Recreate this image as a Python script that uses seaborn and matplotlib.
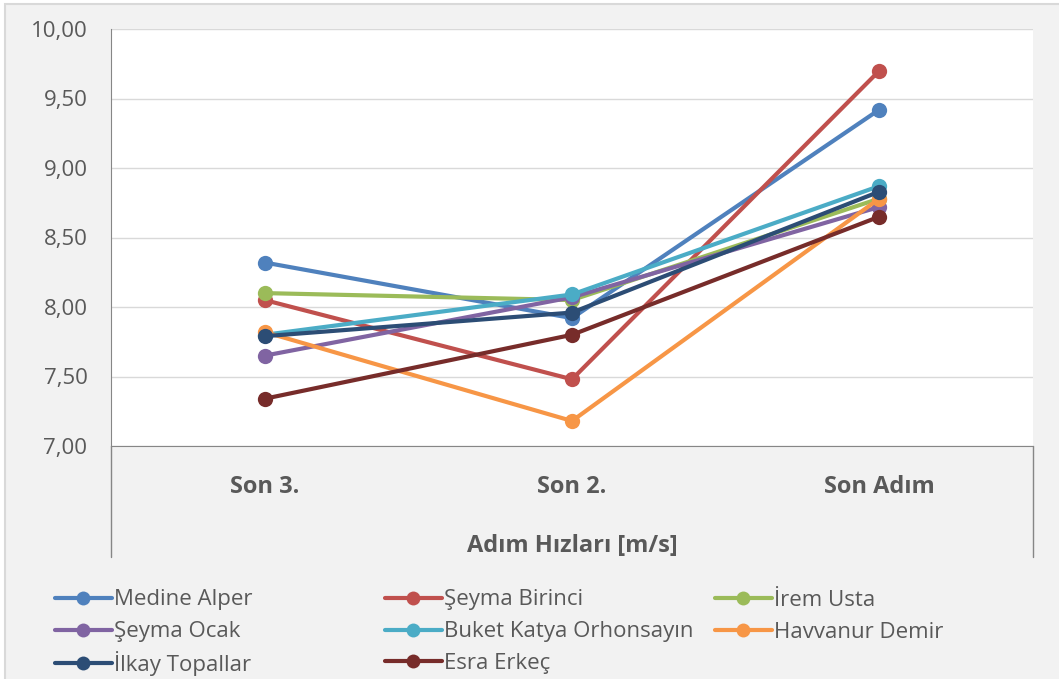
import pandas as pd
import seaborn as sns
import matplotlib.pyplot as plt
from matplotlib.patches import Rectangle
from matplotlib.lines import Line2D
from matplotlib.ticker import FuncFormatter, MultipleLocator

# categories on the x axis
steps = ["Son 3.", "Son 2.", "Son Adım"]

# step speeds per athlete (m/s)
medine_alper = [8.32, 7.92, 9.42]
seyma_birinci = [8.05, 7.48, 9.70]
irem_usta = [8.10, 8.05, 8.78]
seyma_ocak = [7.65, 8.07, 8.72]
buket_orhonsayin = [7.80, 8.09, 8.87]
havvanur_demir = [7.82, 7.18, 8.78]
ilkay_topallar = [7.79, 7.96, 8.83]
esra_erkec = [7.34, 7.80, 8.65]

names = ["Medine Alper", "Şeyma Birinci", "İrem Usta", "Şeyma Ocak",
         "Buket Katya Orhonsayın", "Havvanur Demir", "İlkay Topallar", "Esra Erkeç"]
series = [medine_alper, seyma_birinci, irem_usta, seyma_ocak,
          buket_orhonsayin, havvanur_demir, ilkay_topallar, esra_erkec]
colors = ["#4F81BD", "#C0504D", "#9BBB59", "#8064A2",
          "#4BACC6", "#F79646", "#2C4D75", "#772C2A"]

rows = []
for name, vals in zip(names, series):
    for step, v in zip(steps, vals):
        rows.append({"step": step, "speed": v, "name": name})
df = pd.DataFrame(rows)

sns.set_style("white")
plt.rcParams['font.family'] = ['Open Sans', 'DejaVu Sans']
txt = "#595959"

fig = plt.figure(figsize=(10.59, 6.79), dpi=100, facecolor="white")
# chart area background and border
fig.patches.append(Rectangle((5 / 1059, -0.1), 1.2, 1 - 4 / 679 + 0.1,
                             transform=fig.transFigure, facecolor="#f2f2f2",
                             edgecolor="#d9d9d9", linewidth=1.5, zorder=-10))

ax = fig.add_axes([111 / 1059, 1 - 446 / 679, 922 / 1059, 417 / 679])
ax.set_facecolor("white")

sns.lineplot(data=df, x="step", y="speed", hue="name", hue_order=names,
             palette=colors, marker="o", markersize=11, markeredgewidth=0,
             linewidth=3, ax=ax, legend=False, sort=False)

ax.set_xlim(-0.5, 2.5)
ax.set_ylim(7, 10)
ax.yaxis.set_major_locator(MultipleLocator(0.5))
ax.yaxis.set_major_formatter(FuncFormatter(lambda v, p: f"{v:.2f}".replace(".", ",")))
ax.grid(axis="y", color="#d9d9d9", linewidth=1)
ax.set_axisbelow(True)
for s in ["top", "right"]:
    ax.spines[s].set_visible(False)
ax.spines["left"].set_color("#868686")
ax.spines["bottom"].set_color("#868686")
ax.tick_params(axis="y", length=0, pad=17, labelsize=16, labelcolor=txt)
ax.tick_params(axis="x", length=0, pad=21, labelsize=17, labelcolor=txt)
for lab in ax.get_xticklabels():
    lab.set_fontweight("bold")
ax.set_xlabel("Adım Hızları [m/s]", fontsize=17, fontweight="bold", color=txt, labelpad=25)
ax.set_ylabel("")

# category axis dividers below the plot
for xx in [0, 1]:
    ax.add_line(Line2D([xx, xx], [0, -111 / 417], transform=ax.transAxes,
                       color="#868686", linewidth=1, clip_on=False))

# legend entries, three per row, each placed on its own
xs = [55, 385, 715]
ys = [600, 632, 663]
for i, (name, c) in enumerate(zip(names, colors)):
    h = Line2D([], [], color=c, linewidth=3, marker="o", markersize=10,
               markeredgewidth=0)
    leg = fig.legend([h], [name], loc="center left",
                     bbox_to_anchor=(xs[i % 3] / 1059, 1 - ys[i // 3] / 679),
                     frameon=False, fontsize=16, labelcolor=txt,
                     handlelength=2.55, handletextpad=0.12,
                     borderpad=0, borderaxespad=0)

fig.savefig("out.png", dpi=100, facecolor="white")
